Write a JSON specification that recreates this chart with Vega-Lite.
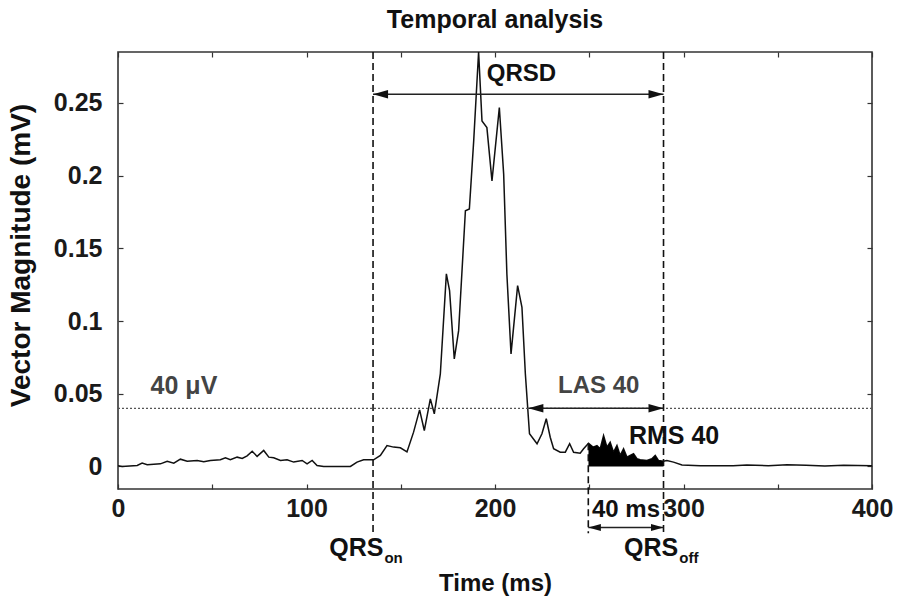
{
  "$schema": "https://vega.github.io/schema/vega-lite/v6.json",
  "width": 754,
  "height": 437,
  "autosize": "none",
  "padding": {"left": 118, "top": 52, "right": 25, "bottom": 114},
  "background": "white",
  "title": {"text": "Temporal analysis", "fontSize": 25, "font": "Liberation Sans", "fontWeight": "bold", "color": "#111", "anchor": "middle", "offset": 16},
  "config": {
    "view": {"stroke": "#333", "strokeWidth": 1.6},
    "axis": {"grid": false, "domain": false, "labelFont": "Liberation Sans", "labelFontWeight": "bold", "labelFontSize": 25, "labelColor": "#1a1a1a", "titleFont": "Liberation Sans", "titleFontWeight": "bold", "titleFontSize": 24, "titleColor": "#111", "tickColor": "#333", "tickSize": -5, "tickWidth": 1.2}
  },
  "datasets": {
    "signal": [
      {"t":0,"v":0.0005},{"t":2.2,"v":0.0},{"t":10.2,"v":0.0007},{"t":12.8,"v":0.0023},{"t":15.5,"v":0.0012},{"t":22.5,"v":0.0018},{"t":26.1,"v":0.0036},{"t":29.6,"v":0.0023},{"t":33.1,"v":0.005},{"t":36.7,"v":0.0036},{"t":42.0,"v":0.0041},{"t":45.5,"v":0.0032},{"t":49.0,"v":0.0041},{"t":54.3,"v":0.0046},{"t":57.0,"v":0.006},{"t":59.6,"v":0.0046},{"t":63.2,"v":0.0064},{"t":65.9,"v":0.0055},{"t":68.5,"v":0.0073},{"t":71.2,"v":0.0105},{"t":73.8,"v":0.0069},{"t":77.3,"v":0.011},{"t":80.0,"v":0.0064},{"t":82.6,"v":0.006},{"t":86.2,"v":0.0041},{"t":89.7,"v":0.0046},{"t":93.2,"v":0.003},{"t":97.7,"v":0.0041},{"t":100.3,"v":0.0018},{"t":103.0,"v":0.0041},{"t":105.6,"v":0.0007},{"t":109.1,"v":0.0},{"t":123.3,"v":0.0},{"t":126.8,"v":0.003},{"t":130.3,"v":0.0046},{"t":135.6,"v":0.0046},{"t":139.2,"v":0.0076},{"t":142.7,"v":0.0144},{"t":146.2,"v":0.0133},{"t":149.8,"v":0.0128},{"t":153.3,"v":0.01},{"t":156.8,"v":0.0236},{"t":160.0,"v":0.0389},{"t":162.5,"v":0.0247},{"t":165.7,"v":0.0465},{"t":167.8,"v":0.0362},{"t":171.0,"v":0.0637},{"t":174.2,"v":0.1324},{"t":175.9,"v":0.1209},{"t":178.4,"v":0.074},{"t":180.7,"v":0.0934},{"t":184.3,"v":0.1758},{"t":186.4,"v":0.177},{"t":188.7,"v":0.2239},{"t":191.3,"v":0.285},{"t":193.1,"v":0.2376},{"t":195.7,"v":0.233},{"t":198.4,"v":0.1964},{"t":202.3,"v":0.2468},{"t":204.6,"v":0.201},{"t":206.3,"v":0.1324},{"t":208.5,"v":0.0774},{"t":212.0,"v":0.1243},{"t":214.3,"v":0.1094},{"t":216.1,"v":0.0637},{"t":218.3,"v":0.0225},{"t":222.3,"v":0.0156},{"t":224.9,"v":0.0225},{"t":227.2,"v":0.0328},{"t":229.3,"v":0.0201},{"t":231.1,"v":0.0122},{"t":234.6,"v":0.0098},{"t":237.3,"v":0.0098},{"t":239.6,"v":0.0156},{"t":241.7,"v":0.0098},{"t":245.2,"v":0.0091},{"t":247.0,"v":0.0122},{"t":249.6,"v":0.016},{"t":252.0,"v":0.0133},{"t":254.1,"v":0.0144},{"t":255.8,"v":0.0122},{"t":257.6,"v":0.0213},{"t":259.4,"v":0.0133},{"t":261.1,"v":0.0167},{"t":262.9,"v":0.0098},{"t":264.7,"v":0.0144},{"t":266.4,"v":0.0076},{"t":268.2,"v":0.0122},{"t":270.0,"v":0.0064},{"t":271.7,"v":0.0076},{"t":273.5,"v":0.0087},{"t":275.3,"v":0.0053},{"t":277.0,"v":0.0046},{"t":280.6,"v":0.0041},{"t":283.2,"v":0.0053},{"t":285.0,"v":0.0076},{"t":286.7,"v":0.0041},{"t":289.4,"v":0.0036},{"t":291.2,"v":0.0041},{"t":294.7,"v":0.003},{"t":299.2,"v":0.001},{"t":308.9,"v":0.0005},{"t":326.3,"v":0.0005},{"t":333.6,"v":0.001},{"t":345,"v":0.0005},{"t":355,"v":0.0012},{"t":365,"v":0.0008},{"t":375,"v":0.0003},{"t":385,"v":0.0008},{"t":400,"v":0.0005}
    ],
    "vlines": [
      {"t": 135.3, "top": 0.285, "bottom": -0.046},
      {"t": 289.4, "top": 0.285, "bottom": -0.046},
      {"t": 249.5, "top": 0.016, "bottom": -0.046}
    ],
    "arrows": [
      {"name": "QRSD", "a": 135.3, "b": 289.4, "v": 0.256, "s": 100},
      {"name": "LAS", "a": 217.7, "b": 289.4, "v": 0.04, "s": 100},
      {"name": "40ms", "a": 249.5, "b": 289.4, "v": -0.042, "s": 70}
    ],
    "labels": [
      {"text": "QRSD", "t": 214, "v": 0.270, "size": 24, "color": "#111"},
      {"text": "LAS 40", "t": 255, "v": 0.055, "size": 24, "color": "#444"},
      {"text": "40 μV", "t": 35, "v": 0.055, "size": 25, "color": "#444"},
      {"text": "RMS 40", "t": 295, "v": 0.021, "size": 25, "color": "#111"},
      {"text": "40 ms", "t": 269.5, "v": -0.030, "size": 24, "color": "#111"}
    ],
    "qrs": [
      {"t": 140.8, "v": -0.0563, "sub": "on"},
      {"t": 297.2, "v": -0.0563, "sub": "off"}
    ]
  },
  "resolve": {"axis": {"x": "independent", "y": "independent"}},
  "layer": [
    {
      "data": {"name": "signal"},
      "mark": {"type": "line", "color": "#111", "strokeWidth": 1.5, "clip": true},
      "encoding": {
        "x": {"field": "t", "type": "quantitative", "scale": {"domain": [0, 400], "nice": false}, "axis": {"orient": "bottom", "title": "Time (ms)", "values": [0, 50, 100, 150, 200, 250, 300, 350, 400], "labelExpr": "datum.value % 100 === 0 ? datum.label : ''", "labelBaseline": "middle", "labelPadding": 24, "titlePadding": 50, "labelFlush": false}},
        "y": {"field": "v", "type": "quantitative", "scale": {"domain": [-0.0155, 0.285], "nice": false, "zero": false}, "axis": {"orient": "left", "title": "Vector Magnitude (mV)", "titleFontSize": 28, "titleY": 203, "format": "~g", "values": [0, 0.05, 0.1, 0.15, 0.2, 0.25], "labelPadding": 21, "titlePadding": 18}}
      }
    },
    {
      "data": {"name": "signal"},
      "mark": {"type": "point", "opacity": 0},
      "encoding": {
        "x": {"field": "t", "type": "quantitative", "axis": {"orient": "top", "title": null, "labels": false, "values": [0, 50, 100, 150, 200, 250, 300, 350, 400]}},
        "y": {"field": "v", "type": "quantitative", "axis": {"orient": "right", "title": null, "labels": false, "values": [0, 0.05, 0.1, 0.15, 0.2, 0.25]}}
      }
    },
    {
      "data": {"name": "signal"},
      "transform": [{"filter": "datum.t >= 249.5 && datum.t <= 289.5"}],
      "mark": {"type": "area", "color": "#000", "opacity": 1},
      "encoding": {
        "x": {"field": "t", "type": "quantitative", "axis": null},
        "y": {"field": "v", "type": "quantitative", "axis": null},
        "y2": {"datum": 0}
      }
    },
    {
      "data": {"values": [{"v": 0.04}]},
      "mark": {"type": "rule", "color": "#555", "strokeWidth": 1.2, "strokeDash": [2, 2]},
      "encoding": {
        "y": {"field": "v", "type": "quantitative", "axis": null}
      }
    },
    {
      "data": {"name": "vlines"},
      "mark": {"type": "rule", "color": "#111", "strokeWidth": 1.6, "strokeDash": [7, 4]},
      "encoding": {
        "x": {"field": "t", "type": "quantitative", "axis": null},
        "y": {"field": "top", "type": "quantitative", "axis": null},
        "y2": {"field": "bottom"}
      }
    },
    {
      "data": {"name": "arrows"},
      "mark": {"type": "rule", "color": "#222", "strokeWidth": 1.5},
      "encoding": {
        "x": {"field": "a", "type": "quantitative", "axis": null},
        "x2": {"field": "b"},
        "y": {"field": "v", "type": "quantitative", "axis": null}
      }
    },
    {
      "data": {"name": "arrows"},
      "mark": {"type": "point", "shape": "M0,0L3,-0.85L3,0.85Z", "filled": true, "color": "#111", "opacity": 1},
      "encoding": {
        "x": {"field": "a", "type": "quantitative", "axis": null},
        "y": {"field": "v", "type": "quantitative", "axis": null},
        "size": {"field": "s", "type": "quantitative", "scale": null, "legend": null}
      }
    },
    {
      "data": {"name": "arrows"},
      "mark": {"type": "point", "shape": "M0,0L-3,-0.85L-3,0.85Z", "filled": true, "color": "#111", "opacity": 1},
      "encoding": {
        "x": {"field": "b", "type": "quantitative", "axis": null},
        "y": {"field": "v", "type": "quantitative", "axis": null},
        "size": {"field": "s", "type": "quantitative", "scale": null, "legend": null}
      }
    },
    {
      "data": {"name": "labels"},
      "mark": {"type": "text", "font": "Liberation Sans", "fontWeight": "bold", "align": "center", "baseline": "middle"},
      "encoding": {
        "x": {"field": "t", "type": "quantitative", "axis": null},
        "y": {"field": "v", "type": "quantitative", "axis": null},
        "text": {"field": "text"},
        "size": {"field": "size", "type": "quantitative", "scale": null, "legend": null},
        "color": {"field": "color", "type": "nominal", "scale": null, "legend": null}
      }
    },
    {
      "data": {"name": "qrs"},
      "mark": {"type": "text", "font": "Liberation Sans", "fontWeight": "bold", "fontSize": 25, "align": "right", "baseline": "middle", "color": "#111"},
      "encoding": {
        "x": {"field": "t", "type": "quantitative", "axis": null},
        "y": {"field": "v", "type": "quantitative", "axis": null},
        "text": {"value": "QRS"}
      }
    },
    {
      "data": {"name": "qrs"},
      "mark": {"type": "text", "font": "Liberation Sans", "fontWeight": "bold", "fontSize": 15, "align": "left", "baseline": "middle", "color": "#111", "dx": 1, "dy": 10},
      "encoding": {
        "x": {"field": "t", "type": "quantitative", "axis": null},
        "y": {"field": "v", "type": "quantitative", "axis": null},
        "text": {"field": "sub"}
      }
    }
  ]
}
